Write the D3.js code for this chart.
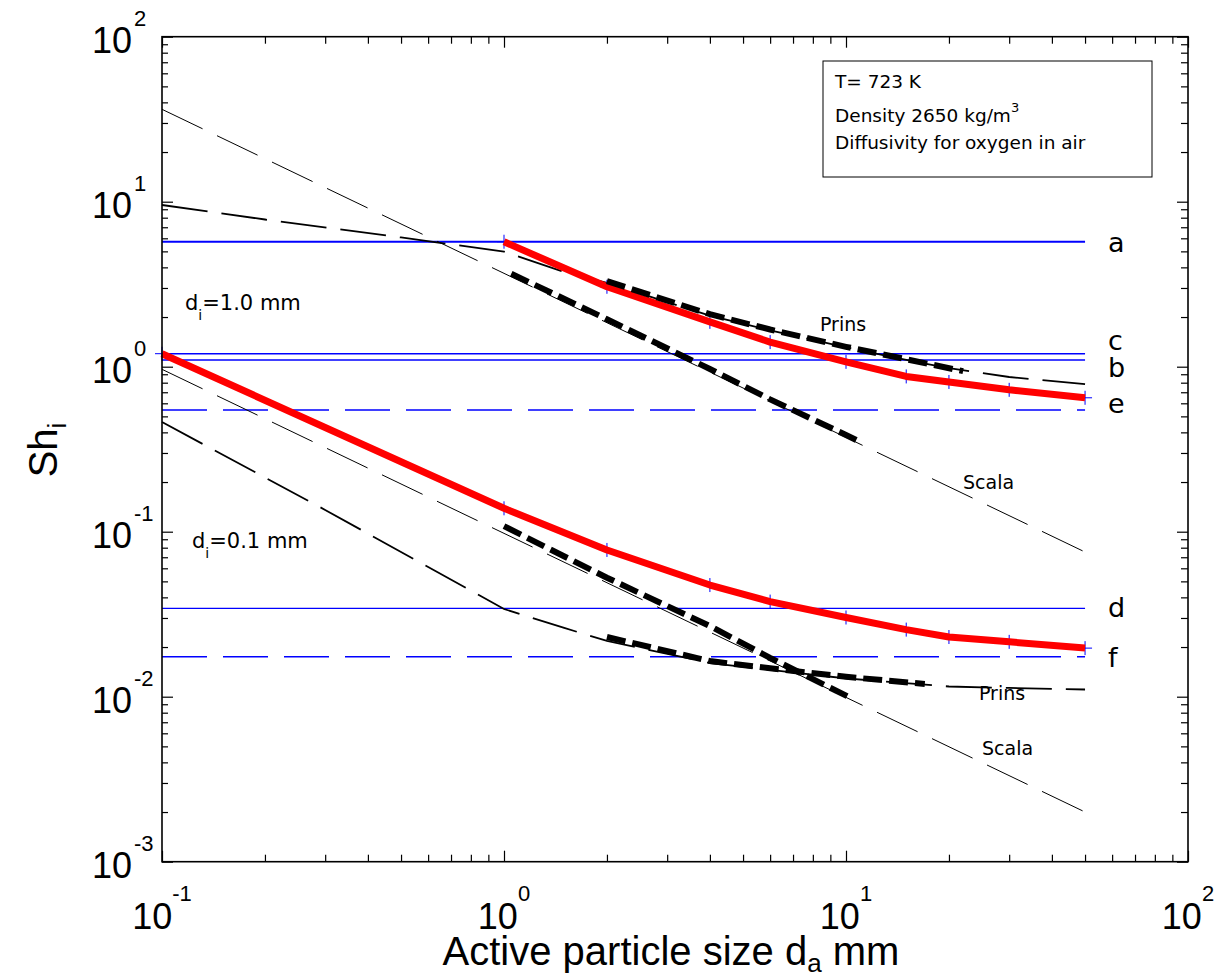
<!DOCTYPE html>
<html><head><meta charset="utf-8">
<script src="https://cdn.jsdelivr.net/npm/d3@7"></script>
<style>body{margin:0;background:#fff} svg{display:block}</style>
</head><body>
<svg id="c" width="1220" height="979"></svg>
<script>
// ---------- data ----------
const hLineNames  = ['a','c','b','e','d','f'];
const hLineValues = [5.72, 1.199, 1.098, 0.546, 0.0343, 0.01747];
const hLineDashed = [false, false, false, true, false, true];
const hLineRange  = [0.1, 50];

const redUpperX = [1, 2, 4, 6, 10, 15, 20, 30, 50];
const redUpperY = [5.72, 3.05, 1.87, 1.41, 1.07, 0.873, 0.808, 0.724, 0.648];
const redLowerX = [0.1, 1, 2, 4, 6, 10, 15, 20, 30, 50];
const redLowerY = [1.199, 0.1386, 0.0775, 0.0475, 0.0377, 0.0302, 0.0255, 0.0230, 0.0215, 0.0197];

const scalaUpperX = [0.1, 50];
const scalaUpperY = [36.3, 0.0753];
const scalaLowerX = [0.1, 50];
const scalaLowerY = [0.964, 0.0020];

const prinsUpperX = [0.1, 0.2, 0.5, 1, 1.5, 2, 4, 6, 10, 15, 20, 30, 50];
const prinsUpperY = [9.55, 7.80, 6.07, 4.99, 3.75, 3.22, 2.04, 1.66, 1.31, 1.10, 0.98, 0.866, 0.785];
const prinsLowerX = [0.1, 0.3, 1, 1.5, 2, 4, 6, 10, 20, 30, 50];
const prinsLowerY = [0.462, 0.1355, 0.0340, 0.0261, 0.0218, 0.0160, 0.01452, 0.0129, 0.01153, 0.0113, 0.01106];

const scalaThickUpperX = [1.05, 2, 4, 6, 10, 11];
const scalaThickUpperY = [3.66, 1.94, 0.968, 0.634, 0.386, 0.35];
const scalaThickLowerX = [1, 2, 4, 6, 10.2];
const scalaThickLowerY = [0.108, 0.0526, 0.0268, 0.0172, 0.00995];
const prinsThickUpperX = [2, 4, 6, 10, 15, 22];
const prinsThickUpperY = [3.3, 2.08, 1.68, 1.32, 1.11, 0.94];
const prinsThickLowerX = [2, 4, 6, 10, 17];
const prinsThickLowerY = [0.0230, 0.01645, 0.01486, 0.0132, 0.01194];

const xTickExps = [-1, 0, 1, 2];
const yTickExps = [-3, -2, -1, 0, 1, 2];

// ---------- layout ----------
const L = 162, R = 1188, T = 36.7, B = 861.7;
const svg = d3.select('#c');
const x = d3.scaleLog().domain([0.1, 100]).range([L, R]);
const y = d3.scaleLog().domain([0.001, 100]).range([B, T]);
const ARIAL = "'Liberation Sans', Arial, Helvetica, sans-serif";
const DEJA = "'DejaVu Sans', Verdana, sans-serif";

const line = d3.line().x(d => x(d[0])).y(d => y(d[1]));
const zip = (a, b) => a.map((v, i) => [v, b[i]]);

// ---------- axes ticks ----------
function minorVals(lo, hi) {
  const out = [];
  for (let e = lo; e < hi; e++) for (let k = 2; k <= 9; k++) out.push(k * Math.pow(10, e));
  return out;
}
const xMinor = minorVals(-1, 2), yMinor = minorVals(-3, 2);
const xMajor = xTickExps.map(e => Math.pow(10, e)), yMajor = yTickExps.map(e => Math.pow(10, e));
const axG = svg.append('g');
function addAxis(gen, tr, vals, size) {
  const g = axG.append('g').attr('transform', tr).call(gen.tickValues(vals).tickSize(size).tickFormat(''));
  g.select('.domain').remove();
  g.selectAll('line').attr('stroke', '#000').attr('stroke-width', 1.2);
}
addAxis(d3.axisBottom(x), `translate(0,${B})`, xMinor, -7);
addAxis(d3.axisBottom(x), `translate(0,${B})`, xMajor, -11);
addAxis(d3.axisTop(x), `translate(0,${T})`, xMinor, -7);
addAxis(d3.axisTop(x), `translate(0,${T})`, xMajor, -11);
addAxis(d3.axisLeft(y), `translate(${L},0)`, yMinor, -6);
addAxis(d3.axisLeft(y), `translate(${L},0)`, yMajor, -11);
addAxis(d3.axisRight(y), `translate(${R},0)`, yMinor, -7);
addAxis(d3.axisRight(y), `translate(${R},0)`, yMajor, -11);

// tick labels
xTickExps.forEach(e => {
  const t = svg.append('text').attr('x', x(Math.pow(10, e))).attr('y', 929)
    .attr('text-anchor', 'middle').attr('font-family', ARIAL).attr('font-size', 36);
  t.append('tspan').text('10');
  t.append('tspan').attr('font-size', 22).attr('dy', -28).text(String(e));
});
yTickExps.forEach(e => {
  const t = svg.append('text').attr('x', 92).attr('y', y(Math.pow(10, e)) + 16)
    .attr('font-family', ARIAL).attr('font-size', 36);
  t.append('tspan').text('10');
  t.append('tspan').attr('font-size', 22).attr('dy', -27).attr('dx', 2).text(String(e));
});

// ---------- plot content ----------
const plot = svg.append('g');
// blue horizontal lines
hLineValues.forEach((v, i) => {
  plot.append('path').attr('d', line([[hLineRange[0], v], [hLineRange[1], v]]))
    .attr('fill', 'none').attr('stroke', '#0000ff')
    .attr('stroke-width', i === 0 ? 2 : 1.4)
    .attr('stroke-dasharray', hLineDashed[i] ? '45,16' : null);
});
// thin black lines
[[scalaUpperX, scalaUpperY], [scalaLowerX, scalaLowerY]].forEach(([a, b]) => {
  plot.append('path').attr('d', line(zip(a, b))).attr('fill', 'none')
    .attr('stroke', '#000').attr('stroke-width', 1).attr('stroke-dasharray', '45,16');
});
[[prinsUpperX, prinsUpperY], [prinsLowerX, prinsLowerY]].forEach(([a, b]) => {
  plot.append('path').attr('d', line(zip(a, b))).attr('fill', 'none')
    .attr('stroke', '#000').attr('stroke-width', 1.8).attr('stroke-dasharray', '46,14');
});
// blue + markers at red data points
const markers = zip(redUpperX, redUpperY).concat(zip(redLowerX, redLowerY));
markers.forEach(p => {
  const cx = x(p[0]), cy = y(p[1]);
  plot.append('path').attr('d', `M${cx - 7},${cy}H${cx + 7}M${cx},${cy - 7}V${cy + 7}`)
    .attr('stroke', '#0000ff').attr('stroke-width', 1);
});
// red curves
[[redUpperX, redUpperY], [redLowerX, redLowerY]].forEach(([a, b]) => {
  plot.append('path').attr('d', line(zip(a, b))).attr('fill', 'none')
    .attr('stroke', '#ff0000').attr('stroke-width', 7).attr('stroke-linejoin', 'round');
});
// thick dashed black
[[scalaThickUpperX, scalaThickUpperY], [scalaThickLowerX, scalaThickLowerY],
 [prinsThickUpperX, prinsThickUpperY], [prinsThickLowerX, prinsThickLowerY]].forEach(([a, b]) => {
  plot.append('path').attr('d', line(zip(a, b))).attr('fill', 'none')
    .attr('stroke', '#000').attr('stroke-width', 6).attr('stroke-dasharray', '19,7');
});

// frame
svg.append('rect').attr('x', L).attr('y', T).attr('width', R - L).attr('height', B - T)
  .attr('fill', 'none').attr('stroke', '#000').attr('stroke-width', 1.6);

// ---------- text labels ----------
const letterDy = [10, -3.7, 16.7, 3.3, 8.4, 10];
hLineNames.forEach((n, i) => {
  svg.append('text').attr('x', 1108).attr('y', y(hLineValues[i]) + letterDy[i])
    .attr('font-family', DEJA).attr('font-size', 27).text(n);
});
function plain(txt, px, py, fs) {
  svg.append('text').attr('x', px).attr('y', py).attr('font-family', DEJA).attr('font-size', fs).text(txt);
}
plain('Prins', 820, 331, 19);
plain('Scala', 963, 489, 19);
plain('Prins', 979, 700, 19);
plain('Scala', 982, 755, 19);

function diLabel(val, px, py) {
  const t = svg.append('text').attr('x', px).attr('y', py).attr('font-family', DEJA).attr('font-size', 21);
  t.append('tspan').text('d');
  t.append('tspan').attr('font-size', 14).attr('dy', 10).text('i');
  t.append('tspan').attr('dy', -10).text('=' + val + ' mm');
}
diLabel('1.0', 185, 310);
diLabel('0.1', 192, 548);

// legend box
svg.append('rect').attr('x', 823).attr('y', 61).attr('width', 329).attr('height', 116)
  .attr('fill', '#fff').attr('stroke', '#000').attr('stroke-width', 1);
plain('T= 723 K', 835, 87.5, 18.5);
{
  const t = svg.append('text').attr('x', 835).attr('y', 122).attr('font-family', DEJA).attr('font-size', 18.5);
  t.append('tspan').text('Density 2650 kg/m');
  t.append('tspan').attr('font-size', 13).attr('dy', -10).text('3');
}
plain('Diffusivity for oxygen in air', 835, 148.5, 18.5);

// axis titles
{
  const t = svg.append('text').attr('x', 671).attr('y', 965).attr('text-anchor', 'middle')
    .attr('font-family', ARIAL).attr('font-size', 40);
  t.append('tspan').text('Active particle size d');
  t.append('tspan').attr('font-size', 26).attr('dy', 7).text('a');
  t.append('tspan').attr('dy', -7).text(' mm');
}
{
  const t = svg.append('text').attr('transform', 'translate(57,450) rotate(-90)')
    .attr('text-anchor', 'middle').attr('font-family', ARIAL).attr('font-size', 40);
  t.append('tspan').text('Sh');
  t.append('tspan').attr('font-size', 26).attr('dy', 9).text('i');
}
</script>
</body></html>
